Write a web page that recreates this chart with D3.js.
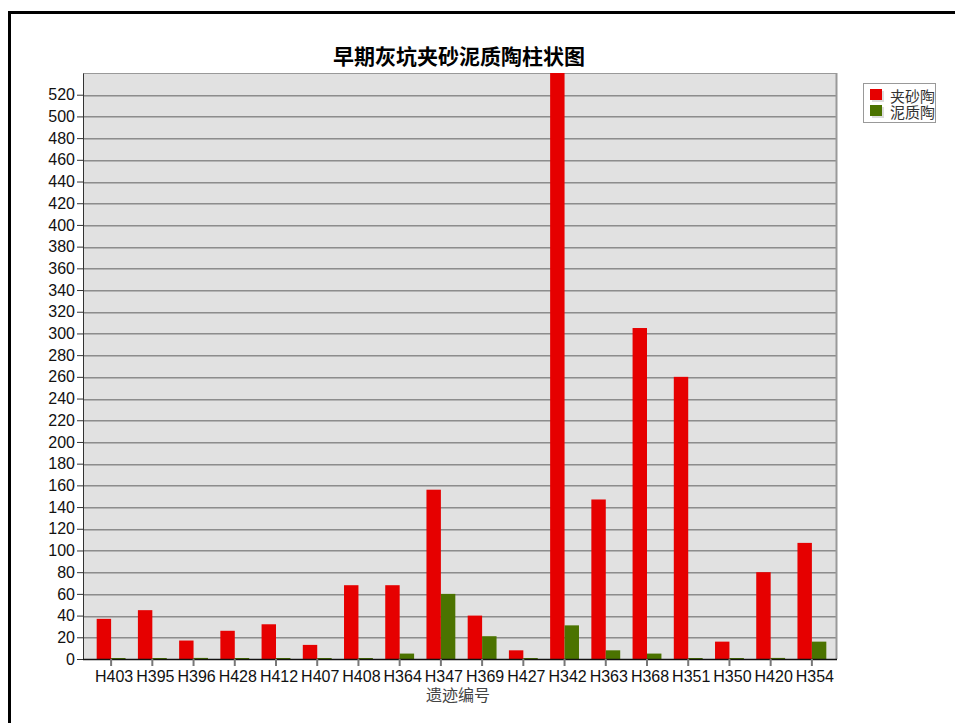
<!DOCTYPE html>
<html>
<head>
<meta charset="utf-8">
<script src="https://cdn.jsdelivr.net/npm/d3@7/dist/d3.min.js"></script>
<style>
  html, body { margin: 0; padding: 0; background: #fff; }
  svg { display: block; }
</style>
</head>
<body>
<svg id="chart" width="955" height="723"></svg>
<script>
const title = "早期灰坑夹砂泥质陶柱状图";
const xTitle = "遗迹编号";
const categories = ["H403","H395","H396","H428","H412","H407","H408","H364","H347","H369","H427","H342","H363","H368","H351","H350","H420","H354"];
const seriesNames = ["夹砂陶","泥质陶"];
const sandValues = [37, 45, 17, 26, 32, 13, 68, 68, 156, 40, 8, 540, 147, 305, 260, 16, 80, 107];
const clayValues = [0, 0, 1, 0, 0, 0, 0, 5, 60, 21, 0, 31, 8, 5, 0, 0, 1, 16];
const yTicks = d3.range(0, 521, 20);
const colors = ["#e60000", "#4b7300"];

const svg = d3.select("#chart");

// outer frame
svg.append("rect").attr("x", 9.5).attr("y", 12.5).attr("width", 1000).attr("height", 1000)
  .attr("fill", "none").attr("stroke", "#000").attr("stroke-width", 3);

const plot = { left: 83, right: 837, top: 73, bottom: 659 };

const x = d3.scaleBand().domain(categories).range([90.5, 832.5]).paddingInner(0.3).paddingOuter(0.15);
const xs = d3.scaleBand().domain(seriesNames).range([0, x.bandwidth()]);
const y = d3.scaleLinear().domain([0, 540]).range([plot.bottom, plot.top]);

// plot background
svg.append("rect").attr("x", plot.left).attr("y", plot.top)
  .attr("width", plot.right - plot.left).attr("height", plot.bottom - plot.top)
  .attr("fill", "#e1e1e1");

// gridlines
const grid = svg.append("g");
yTicks.filter(d => d > 0).forEach(t => {
  const yy = Math.round(y(t));
  grid.append("line").attr("x1", plot.left).attr("x2", plot.right)
    .attr("y1", yy + 0.5).attr("y2", yy + 0.5).attr("stroke", "#8c8c8c");
  grid.append("line").attr("x1", plot.left).attr("x2", plot.right)
    .attr("y1", yy + 1.5).attr("y2", yy + 1.5).attr("stroke", "#b4b4b4");
});

// plot border top/right
svg.append("line").attr("x1", plot.left).attr("x2", plot.right).attr("y1", plot.top + 0.5).attr("y2", plot.top + 0.5).attr("stroke", "#999");
svg.append("line").attr("x1", plot.right - 0.5).attr("x2", plot.right - 0.5).attr("y1", plot.top).attr("y2", plot.bottom).attr("stroke", "#999").attr("stroke-width", 2);

// bars
const data = categories.map((c, i) => ({ cat: c, vals: [sandValues[i], clayValues[i]] }));
const groups = svg.append("g").selectAll("g").data(data).join("g")
  .attr("transform", d => `translate(${x(d.cat)},0)`);
groups.selectAll("rect").data(d => d.vals.map((v, j) => ({ v, s: seriesNames[j], j })))
  .join("rect")
  .attr("x", d => xs(d.s))
  .attr("width", xs.bandwidth())
  .attr("y", d => Math.min(y(d.v), plot.bottom - 1))
  .attr("height", d => Math.max(1, plot.bottom - y(d.v)))
  .attr("fill", d => colors[d.j]);

// y axis
const yAxis = d3.axisLeft(y).tickValues(yTicks).tickSize(6).tickPadding(2).tickSizeOuter(0);
const ya = svg.append("g").attr("transform", `translate(${plot.left},0)`).call(yAxis);
ya.select(".domain").attr("stroke", "#333").attr("stroke-width", 1);
ya.selectAll(".tick line").attr("stroke", "#333");
ya.selectAll(".tick text").attr("font-family", "Liberation Sans, Arial, sans-serif")
  .attr("font-size", 16).attr("fill", "#111");

// x axis
const xAxis = d3.axisBottom(x).tickSize(7).tickPadding(5).tickSizeOuter(0);
const xa = svg.append("g").attr("transform", `translate(0,${plot.bottom})`).call(xAxis);
xa.select(".domain").attr("d", `M${plot.left},0.5H${plot.right}`).attr("stroke", "#111").attr("stroke-width", 1.5);
xa.selectAll(".tick line").attr("stroke", "#777").attr("stroke-width", 2);
xa.selectAll(".tick text").attr("font-family", "Liberation Sans, Arial, sans-serif")
  .attr("font-size", 16).attr("fill", "#111").attr("dx", 3);

// title
svg.append("text").attr("x", 459).attr("y", 64).attr("text-anchor", "middle")
  .attr("font-family", "Noto Sans CJK SC, sans-serif").attr("font-weight", "bold")
  .attr("font-size", 21).attr("fill", "#000").text(title);

// x title
svg.append("text").attr("x", 458).attr("y", 701).attr("text-anchor", "middle")
  .attr("font-family", "Noto Sans CJK SC, sans-serif")
  .attr("font-size", 16).attr("fill", "#444").text(xTitle);

// legend
const lg = svg.append("g");
lg.append("rect").attr("x", 863.5).attr("y", 83.5).attr("width", 72).attr("height", 39)
  .attr("fill", "#fff").attr("stroke", "#999");
seriesNames.forEach((s, i) => {
  const yy = 89 + i * 16;
  lg.append("rect").attr("x", 872).attr("y", yy + 2).attr("width", 12).attr("height", 11).attr("fill", "#ddd");
  lg.append("rect").attr("x", 870).attr("y", yy).attr("width", 12).attr("height", 11).attr("fill", colors[i]);
  lg.append("text").attr("x", 890).attr("y", yy + 13).attr("font-family", "Noto Sans CJK SC, sans-serif")
    .attr("font-size", 15).attr("fill", "#333").text(s);
});
</script>
</body>
</html>
